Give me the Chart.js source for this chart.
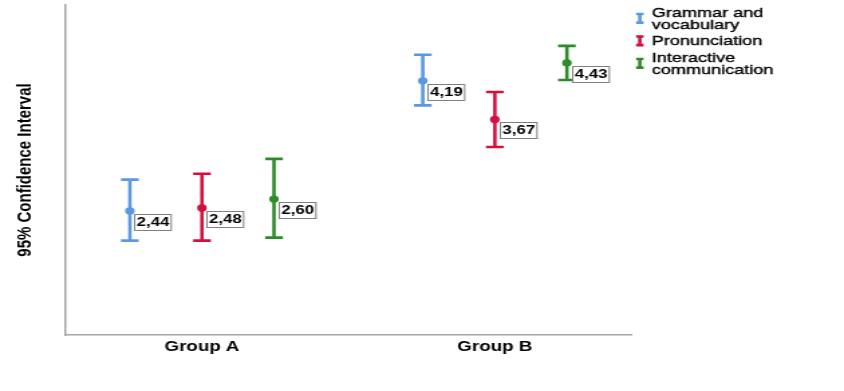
<!DOCTYPE html>
<html>
<head>
<meta charset="utf-8">
<script src="https://cdn.jsdelivr.net/npm/chart.js@4.4.0/dist/chart.umd.min.js"></script>
<style>
  html, body { margin: 0; padding: 0; background: #fff; overflow: hidden; }
  /* the source chart is a stretched export, so draw it narrow and stretch it */
  #wrap { width: 630px; height: 391px; transform: scaleX(1.3397); transform-origin: 0 0; }
</style>
</head>
<body>
<div id="wrap"><canvas id="ciChart"></canvas></div>
<script>
const groups = ['Group A', 'Group B'];
const seriesNames = [['Grammar and', 'vocabulary'], ['Pronunciation'], ['Interactive', 'communication']];

const grammarMean = [2.44, 4.19];
const grammarLow = [2.04, 3.86];
const grammarHigh = [2.86, 4.54];

const pronMean = [2.48, 3.67];
const pronLow = [2.04, 3.30];
const pronHigh = [2.94, 4.04];

const interMean = [2.60, 4.43];
const interLow = [2.08, 4.20];
const interHigh = [3.14, 4.66];

const colors = ['#5b98e0', '#d21040', '#2e8b2a'];
const shift = [-0.246, 0, 0.246];
const FONT = '"Liberation Sans", Arial, sans-serif';

function fmt(v) {
    return v.toFixed(2).replace('.', ',');
}

function makeSet(i, mean, low, high) {
    return {
        label: seriesNames[i].join(' '),
        data: mean.map((m, g) => ({ x: g + shift[i], y: m })),
        low: low,
        high: high,
        borderColor: colors[i],
        backgroundColor: colors[i],
        pointRadius: 3.6,
        pointBorderWidth: 0,
        showLine: false
    };
}

// whiskers with caps
const errorBars = {
    id: 'errorBars',
    beforeDatasetsDraw(chart) {
        const ctx = chart.ctx, y = chart.scales.y;
        chart.data.datasets.forEach((ds, i) => {
            const meta = chart.getDatasetMeta(i);
            ctx.save();
            ctx.strokeStyle = ds.borderColor;
            meta.data.forEach((pt, j) => {
                const top = y.getPixelForValue(ds.high[j]);
                const bot = y.getPixelForValue(ds.low[j]);
                ctx.lineWidth = 2.6;
                ctx.beginPath();
                ctx.moveTo(pt.x, top);
                ctx.lineTo(pt.x, bot);
                ctx.stroke();
                ctx.lineWidth = 2.6;
                ctx.beginPath();
                ctx.moveTo(pt.x - 6.6, top); ctx.lineTo(pt.x + 6.6, top);
                ctx.moveTo(pt.x - 6.6, bot); ctx.lineTo(pt.x + 6.6, bot);
                ctx.stroke();
            });
            ctx.restore();
        });
    }
};

// boxed mean labels
const meanLabels = {
    id: 'meanLabels',
    afterDatasetsDraw(chart) {
        const ctx = chart.ctx;
        ctx.save();
        ctx.font = 'bold 12.5px ' + FONT;
        ctx.textBaseline = 'middle';
        chart.data.datasets.forEach((ds, i) => {
            chart.getDatasetMeta(i).data.forEach((pt, j) => {
                const txt = fmt(ds.data[j].y);
                const w = ctx.measureText(txt).width + 3;
                const h = 16;
                const bx = Math.round(pt.x + 3.5) + 0.5, by = Math.round(pt.y + 3) + 0.5;
                ctx.fillStyle = '#fff';
                ctx.fillRect(bx, by, w, h);
                ctx.strokeStyle = '#808080';
                ctx.lineWidth = 1;
                ctx.strokeRect(bx, by, w, h);
                ctx.fillStyle = '#000';
                ctx.fillText(txt, bx + 1.5, by + h / 2 + 0.5);
            });
        });
        ctx.restore();
    }
};

// legend with wrapped names and error bar icons
const sideLegend = {
    id: 'sideLegend',
    afterDraw(chart) {
        const ctx = chart.ctx;
        ctx.save();
        ctx.font = '13.5px ' + FONT;
        ctx.textBaseline = 'alphabetic';
        let y = 16.5;
        seriesNames.forEach((lines, i) => {
            const first = y;
            lines.forEach(t => {
                ctx.fillStyle = '#000';
                ctx.strokeStyle = '#000';
                ctx.lineWidth = 0.35;
                ctx.fillText(t, 486.5, y);
                ctx.strokeText(t, 486.5, y);
                y += 12.6;
            });
            const cy = (first + y - 12.6) / 2 - 4.5;
            ctx.strokeStyle = colors[i];
            ctx.lineWidth = 2.6;
            ctx.beginPath();
            ctx.moveTo(477.6, cy - 5); ctx.lineTo(477.6, cy + 5);
            ctx.moveTo(474.8, cy - 4.3); ctx.lineTo(480.4, cy - 4.3);
            ctx.moveTo(474.8, cy + 4.3); ctx.lineTo(480.4, cy + 4.3);
            ctx.stroke();
            y += 3.6;
        });
        ctx.restore();
    }
};

new Chart(document.getElementById('ciChart'), {
    type: 'scatter',
    data: {
        datasets: [
            makeSet(0, grammarMean, grammarLow, grammarHigh),
            makeSet(1, pronMean, pronLow, pronHigh),
            makeSet(2, interMean, interLow, interHigh)
        ]
    },
    plugins: [errorBars, meanLabels, sideLegend],
    options: {
        responsive: true,
        maintainAspectRatio: false,
        animation: false,
        events: [],
        layout: { padding: { top: 5, right: 158.4, left: 0, bottom: 0 } },
        plugins: {
            legend: { display: false },
            tooltip: { enabled: false }
        },
        scales: {
            x: {
                type: 'linear',
                min: -0.4676,
                max: 1.4676,
                afterBuildTicks: (scale) => { scale.ticks = groups.map((g, i) => ({ value: i })); },
                afterFit: (scale) => { scale.height = 56; },
                grid: { display: false, drawTicks: false },
                border: { color: '#a6a6a6', width: 1.5 },
                ticks: {
                    autoSkip: false,
                    maxRotation: 0,
                    padding: 4,
                    color: '#000',
                    font: { family: FONT, size: 14, weight: 'bold' },
                    callback: (v) => groups[v]
                }
            },
            y: {
                min: 0.77,
                max: 5.21,
                afterFit: (scale) => { scale.width = 48.5; },
                grid: { display: false, drawTicks: false },
                border: { color: '#a6a6a6', width: 1.5 },
                ticks: { display: false },
                title: {
                    display: true,
                    text: '95% Confidence Interval',
                    color: '#000',
                    padding: { top: 10, bottom: 0 },
                    font: { family: FONT, size: 15, weight: 'bold' }
                }
            }
        }
    }
});
</script>
</body>
</html>
